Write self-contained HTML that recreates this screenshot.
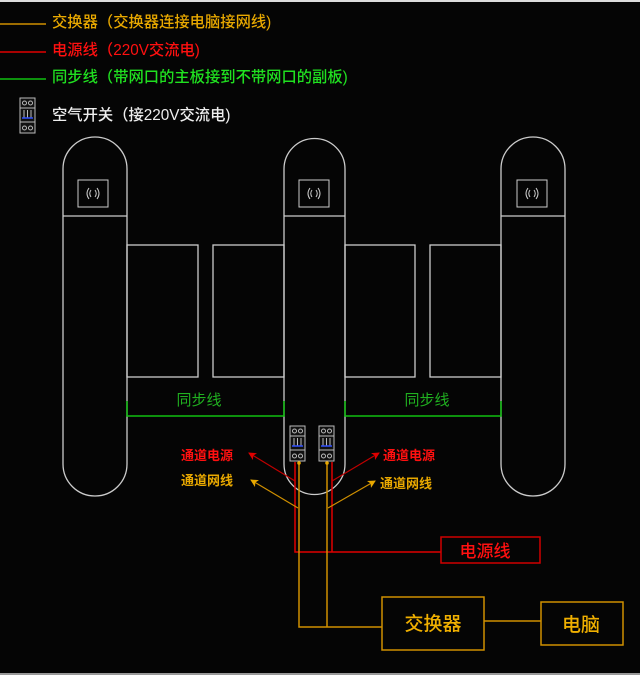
<!DOCTYPE html>
<html><head><meta charset="utf-8"><style>
html,body{margin:0;padding:0;background:#050505;}
svg{display:block;}
text{font-family:"Liberation Sans","Noto Sans CJK SC",sans-serif;}
</style></head><body>
<svg width="640" height="675" viewBox="0 0 640 675" xmlns="http://www.w3.org/2000/svg">
<defs>
<marker id="ar" markerWidth="8" markerHeight="8" refX="7" refY="4" orient="auto" markerUnits="userSpaceOnUse"><path d="M0,0 L8,4 L0,8 L2,4 Z" fill="#e00000"/></marker>
<marker id="ao" markerWidth="8" markerHeight="8" refX="7" refY="4" orient="auto" markerUnits="userSpaceOnUse"><path d="M0,0 L8,4 L0,8 L2,4 Z" fill="#e8a800"/></marker>
<g id="brk">
<rect x="0" y="0" width="15" height="35" fill="#111" stroke="#bbb" stroke-width="1"/>
<circle cx="4.5" cy="5" r="2" fill="none" stroke="#bbb"/><circle cx="10.5" cy="5" r="2" fill="none" stroke="#bbb"/>
<line x1="0" y1="10" x2="15" y2="10" stroke="#bbb"/>
<line x1="4" y1="12" x2="4" y2="20" stroke="#bbb"/><line x1="7.5" y1="12" x2="7.5" y2="20" stroke="#bbb"/><line x1="11" y1="12" x2="11" y2="20" stroke="#bbb"/>
<line x1="2" y1="20" x2="13" y2="20" stroke="#3050ff" stroke-width="1.5"/>
<line x1="0" y1="24" x2="15" y2="24" stroke="#bbb"/>
<circle cx="4.5" cy="30" r="2" fill="none" stroke="#bbb"/><circle cx="10.5" cy="30" r="2" fill="none" stroke="#bbb"/>
</g>
<g id="nfc">
<rect x="0" y="0" width="30" height="27" fill="none" stroke="#ccc"/>
<path d="M11,8 Q7,13.5 11,19 M13,10 Q10.5,13.5 13,17 M19,8 Q23,13.5 19,19 M17,10 Q19.5,13.5 17,17" fill="none" stroke="#ccc" stroke-width="1"/>
</g>
</defs>
<line x1="0" y1="1" x2="640" y2="1" stroke="#ddd" stroke-width="2"/>
<line x1="0" y1="674" x2="640" y2="674" stroke="#999" stroke-width="2"/>

<!-- legend -->
<line x1="0" y1="24" x2="46" y2="24" stroke="#d09000" stroke-width="1.5"/>
<text x="52" y="27" font-size="15.3" font-weight="500" fill="#e8a800">交换器（交换器连接电脑接网线)</text>
<line x1="0" y1="52" x2="46" y2="52" stroke="#e00000" stroke-width="1.5"/>
<text x="52" y="55" font-size="15.3" font-weight="500" fill="#ff1010">电源线（220V交流电)</text>
<line x1="0" y1="79" x2="46" y2="79" stroke="#10c010" stroke-width="1.5"/>
<text x="52" y="82" font-size="15.3" font-weight="500" fill="#20e020">同步线（带网口的主板接到不带网口的副板)</text>
<use href="#brk" x="20" y="98"/>
<text x="52" y="120" font-size="15.3" font-weight="500" fill="#eee">空气开关（接220V交流电)</text>

<!-- pillars -->
<g fill="none" stroke="#ccc" stroke-width="1.3">
<path d="M63,169 A32,32 0 0 1 127,169 L127,464 A32,32 0 0 1 63,464 Z"/>
<path d="M284,169 A30.5,30.5 0 0 1 345,169 L345,464 A30.5,30.5 0 0 1 284,464 Z"/>
<path d="M501,169 A32,32 0 0 1 565,169 L565,464 A32,32 0 0 1 501,464 Z"/>
<line x1="63" y1="216" x2="127" y2="216"/><line x1="284" y1="216" x2="345" y2="216"/><line x1="501" y1="216" x2="565" y2="216"/>
<rect x="127" y="245" width="71" height="132"/>
<rect x="213" y="245" width="71" height="132"/>
<rect x="345" y="245" width="70" height="132"/>
<rect x="430" y="245" width="71" height="132"/>
</g>
<use href="#nfc" x="78" y="180"/>
<use href="#nfc" x="299" y="180"/>
<use href="#nfc" x="517" y="180"/>

<!-- sync lines -->
<g stroke="#10c010" stroke-width="1.5" fill="none">
<path d="M127,401 L127,416 L284,416 L284,401"/>
<path d="M345,401 L345,416 L501,416 L501,401"/>
</g>
<text x="199" y="405" font-size="15" fill="#20b020" text-anchor="middle">同步线</text>
<text x="427" y="405" font-size="15" fill="#20b020" text-anchor="middle">同步线</text>

<use href="#brk" x="290" y="426"/>
<use href="#brk" x="319" y="426"/>

<!-- wires -->
<g fill="none" stroke-width="1.5">
<path d="M295,462 L295,552 L441,552" stroke="#e00000"/>
<path d="M332,462 L332,552" stroke="#e00000"/>
<path d="M299,462 L299,627 L382,627" stroke="#d09000"/>
<path d="M327,462 L327,627" stroke="#d09000"/>
<line x1="484" y1="621" x2="541" y2="621" stroke="#d09000"/>
<line x1="295" y1="481" x2="249" y2="453" stroke="#c00000" stroke-width="1.2" marker-end="url(#ar)"/>
<line x1="298" y1="508" x2="251" y2="480" stroke="#d09000" stroke-width="1.2" marker-end="url(#ao)"/>
<line x1="332" y1="481" x2="379" y2="453" stroke="#c00000" stroke-width="1.2" marker-end="url(#ar)"/>
<line x1="328" y1="508" x2="375" y2="481" stroke="#d09000" stroke-width="1.2" marker-end="url(#ao)"/>
</g>
<circle cx="299" cy="463" r="1.8" fill="#e8a800"/><circle cx="327" cy="463" r="1.8" fill="#e8a800"/>
<text x="181" y="460" font-size="13" font-weight="bold" fill="#ff1010">通道电源</text>
<text x="181" y="485" font-size="13" font-weight="bold" fill="#e8a800">通道网线</text>
<text x="383" y="460" font-size="13" font-weight="bold" fill="#ff1010">通道电源</text>
<text x="380" y="488" font-size="13" font-weight="bold" fill="#e8a800">通道网线</text>

<!-- boxes -->
<rect x="441" y="537" width="99" height="26" fill="none" stroke="#d00000" stroke-width="1.5"/>
<text x="485" y="557" font-size="17" font-weight="500" fill="#ff1010" text-anchor="middle">电源线</text>
<rect x="382" y="597" width="102" height="53" fill="none" stroke="#d09000" stroke-width="1.5"/>
<text x="433" y="630" font-size="19" font-weight="500" fill="#f0b000" text-anchor="middle">交换器</text>
<rect x="541" y="602" width="82" height="43" fill="none" stroke="#d09000" stroke-width="1.5"/>
<text x="581" y="631" font-size="19" font-weight="500" fill="#f0b000" text-anchor="middle">电脑</text>
</svg>
</body></html>
